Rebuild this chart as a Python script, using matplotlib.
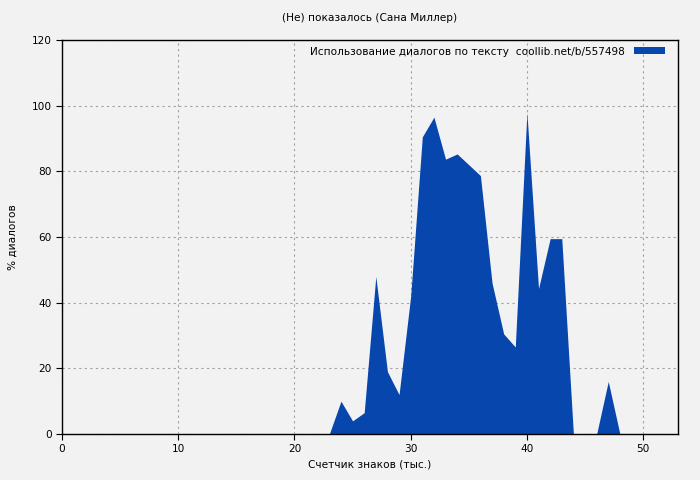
import numpy as np
import matplotlib.pyplot as plt
from matplotlib.patches import Patch

# thousands of characters vs. % of dialogue
chars = [0, 23, 24, 25, 26, 27, 28, 29, 30, 31, 32, 33, 34, 35, 36, 37, 38,
         39, 40, 41, 42, 43, 44, 45, 46, 47, 48, 53]
dialog = [0, 0, 10, 4, 6.5, 48, 19, 12, 42, 90.5, 96.5, 83.7, 85.3, 82, 78.7,
          46, 30.5, 26.5, 97.8, 44.3, 59.5, 59.5, 0, 0, 0, 16, 0, 0]

title = "(Не) показалось (Сана Миллер)"
legend_label = "Использование диалогов по тексту  coollib.net/b/557498"
fill_color = "#0646ad"
bg = "#f2f2f2"

fig = plt.figure(figsize=(7, 4.8), dpi=100, facecolor=bg)
ax = fig.add_axes([62 / 700, 46 / 480, 616 / 700, 394 / 480], facecolor=bg)

ax.fill_between(chars, dialog, 0, color=fill_color, linewidth=0)

ax.set_xlim(0, 53)
ax.set_ylim(0, 120)
ax.set_xticks(np.arange(0, 51, 10))
ax.set_yticks(np.arange(0, 121, 20))
ax.grid(True, color="#a0a0a0", linestyle=(0, (2, 3)), linewidth=0.8)
ax.set_axisbelow(True)
for s in ax.spines.values():
    s.set_color("black")
    s.set_linewidth(1)
ax.tick_params(labelsize=7.6, length=4, direction="out", color="black")

fig.text(370 / 700, 1 - 18 / 480, title, ha="center", va="center", fontsize=7.6)
ax.set_xlabel("Счетчик знаков (тыс.)", fontsize=7.6, labelpad=4)
ax.set_ylabel("% диалогов", fontsize=7.6, labelpad=10)

handle = Patch(facecolor=fill_color, edgecolor="none")
ax.legend([handle], [legend_label], loc="upper right", frameon=False,
          bbox_to_anchor=(1 - 2 / 616, 1 + 4 / 394),
          fontsize=7.6, markerfirst=False, handlelength=3.0, handleheight=0.6,
          borderaxespad=0.6, handletextpad=0.8)

fig.savefig("out.png", dpi=100, facecolor=bg)
